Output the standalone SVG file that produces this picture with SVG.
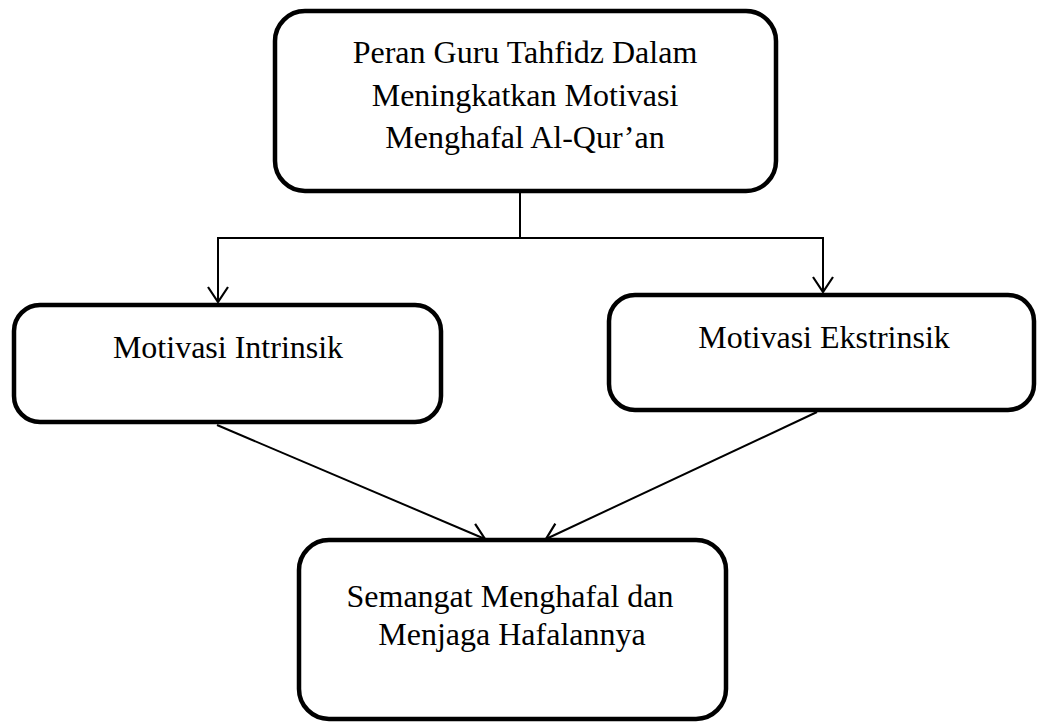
<svg xmlns="http://www.w3.org/2000/svg" width="1038" height="724" viewBox="0 0 1038 724">
<style>
.box{fill:#fff;stroke:#000;stroke-width:4.5}
.lbl{font-family:"Liberation Serif","Times New Roman",serif;font-size:32px;fill:#000;text-anchor:middle}
.con{fill:none;stroke:#000;stroke-width:2}
</style>
<defs>
<marker id="arr" markerUnits="userSpaceOnUse" markerWidth="30" markerHeight="30" refX="16" refY="10" orient="auto" viewBox="0 0 30 20">
<path d="M1,0 L16,10 L1,20" fill="none" stroke="#000" stroke-width="2.2"/>
</marker>
</defs>
<rect width="1038" height="724" fill="#fff"/>
<g id="connectors">
<line class="con" x1="520" y1="193" x2="520" y2="238"/>
<line class="con" x1="217" y1="238" x2="824" y2="238"/>
<line class="con" x1="218" y1="237" x2="218" y2="302" marker-end="url(#arr)"/>
<line class="con" x1="823" y1="237" x2="823" y2="292" marker-end="url(#arr)"/>
<line class="con" x1="217" y1="425" x2="485" y2="539" marker-end="url(#arr)"/>
<line class="con" x1="817" y1="412" x2="546" y2="539" marker-end="url(#arr)"/>
</g>
<g id="node-top">
<rect class="box" x="275" y="11" width="501" height="180" rx="30"/>
<text class="lbl" x="525" y="63">Peran Guru Tahfidz Dalam</text>
<text class="lbl" x="525" y="106">Meningkatkan Motivasi</text>
<text class="lbl" x="525" y="148">Menghafal Al-Qur’an</text>
</g>
<g id="node-intrinsik">
<rect class="box" x="14" y="305" width="427" height="117" rx="26"/>
<text class="lbl" x="228" y="358">Motivasi Intrinsik</text>
</g>
<g id="node-ekstrinsik">
<rect class="box" x="609" y="295" width="425" height="115" rx="26"/>
<text class="lbl" x="824" y="348">Motivasi Ekstrinsik</text>
</g>
<g id="node-bottom">
<rect class="box" x="299" y="540" width="427" height="179" rx="30"/>
<text class="lbl" x="510" y="607">Semangat Menghafal dan</text>
<text class="lbl" x="512" y="645">Menjaga Hafalannya</text>
</g>
</svg>
